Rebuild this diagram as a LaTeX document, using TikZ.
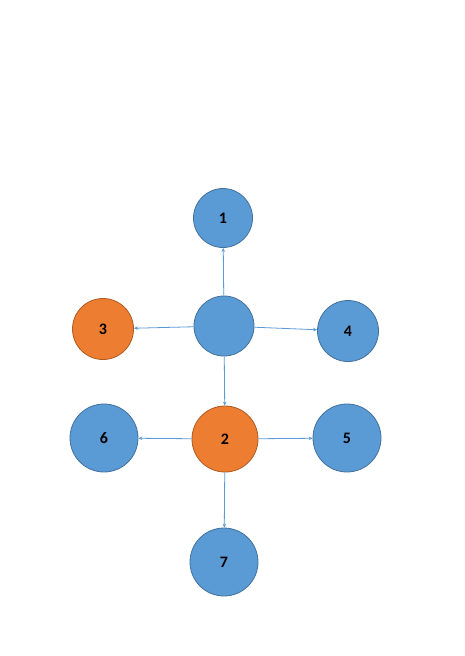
\documentclass[tikz,border=0pt]{standalone}
\usepackage{fontspec}
\setmainfont{Carlito}
\usetikzlibrary{arrows.meta}
\definecolor{nblue}{HTML}{5B9BD5}
\definecolor{nblueb}{HTML}{41719C}
\definecolor{norange}{HTML}{ED7D31}
\definecolor{norangeb}{HTML}{AE5A21}
\definecolor{lineblue}{HTML}{5B9BD5}
\tikzset{
  bnode/.style={circle, fill=nblue, draw=nblueb, line width=0.8pt, inner sep=0pt, font=\bfseries\fontsize{16}{18}\selectfont, text=black},
  onode/.style={bnode, fill=norange, draw=norangeb},
  conn/.style={draw=lineblue, line width=0.8pt, -{Stealth[length=4pt,width=3.5pt]}}
}
\begin{document}
\begin{tikzpicture}[x=1pt,y=-1pt]
\useasboundingbox (0,0) rectangle (464,656);
\fill[white] (0,0) rectangle (464,656);
\node[bnode, minimum size=60pt] (c) at (224,326) {};
\node[bnode, minimum size=59pt] (n1) at (223,218) {1};
\node[onode, minimum width=61pt, minimum height=59pt] (n3) at (103,329) {3};
\node[bnode, minimum size=61pt] (n4) at (348,331) {4};
\node[onode, minimum size=66pt] (n2) at (225,439) {2};
\node[bnode, minimum size=68pt] (n6) at (104,438) {6};
\node[bnode, minimum size=68pt] (n5) at (347,438) {5};
\node[bnode, minimum size=68pt] (n7) at (224,562) {7};
\draw[conn] (c) -- (n1);
\draw[conn] (c) -- (n3);
\draw[conn] (c) -- (n4);
\draw[conn] (c) -- (n2);
\draw[conn] (n2) -- (n6);
\draw[conn] (n2) -- (n5);
\draw[conn] (n2) -- (n7);
\end{tikzpicture}
\end{document}
